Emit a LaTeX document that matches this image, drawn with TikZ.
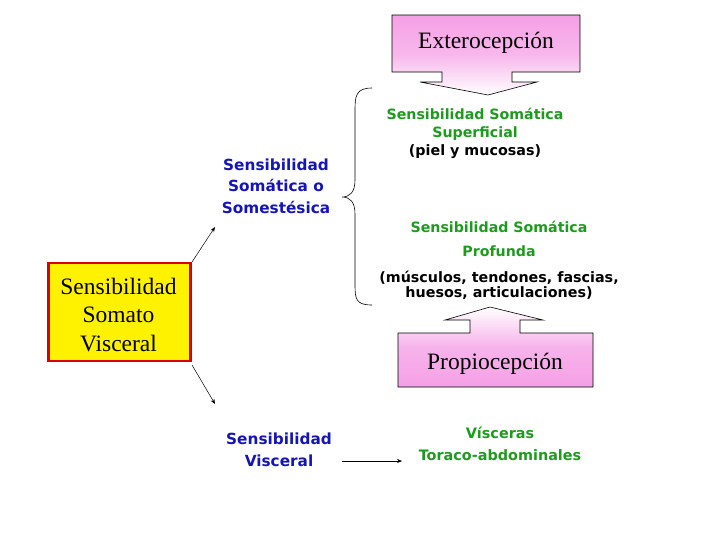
\documentclass[tikz,border=0pt]{standalone}
\usepackage{fontspec}
\setmainfont{Liberation Serif}
\newfontfamily\vfont{DejaVu Sans}
\usetikzlibrary{arrows.meta}
\definecolor{vblue}{RGB}{20,20,185}
\definecolor{vgreen}{RGB}{30,155,30}
\definecolor{vpink}{RGB}{245,160,230}
\tikzset{
  serif/.style={font=\fontsize{23.5}{29}\selectfont, align=center, inner sep=0pt},
  bluelab/.style={font=\vfont\bfseries\fontsize{15.3}{21.5}\selectfont, text=vblue, align=center, inner sep=0pt},
  greenlab/.style={font=\vfont\bfseries\fontsize{14.2}{18}\selectfont, text=vgreen, align=center, inner sep=0pt},
  blacklab/.style={font=\vfont\bfseries\fontsize{14.3}{15}\selectfont, text=black, align=center, inner sep=0pt},
  conn/.style={-{Stealth[length=5pt,width=4pt]}, line width=0.5pt},
  callout/.style={draw=black, line width=0.6pt}
}
\begin{document}
\begin{tikzpicture}[x=1pt,y=-1pt]
\useasboundingbox[fill=white] (0,0) rectangle (728,546);
% Exterocepcion callout
\path[callout, top color=vpink, bottom color=white, middle color=vpink!75]
  (392,15) -- (580,15) -- (580,72) -- (512,72) -- (512,82) -- (537,82) -- (488,95)
  -- (420,82) -- (442,82) -- (442,72) -- (392,72) -- cycle;
\node[serif] (ext) at (486,43) {Exterocepción};
% Propiocepcion callout
\path[callout, top color=white, bottom color=vpink, middle color=vpink!80]
  (398,333) -- (470,333) -- (470,320) -- (445,320) -- (490,307) -- (543,320)
  -- (520,320) -- (520,333) -- (593,333) -- (593,387) -- (398,387) -- cycle;
\node[serif] (pro) at (495,364) {Propiocepción};
% main box
\node[draw=red!85!black, line width=2.6pt, fill=yellow, minimum width=142pt, minimum height=98pt, inner sep=0pt] (main) at (119.5,312) {};
\node[serif, font=\fontsize{23.5}{28.5}\selectfont] (maintext) at (118.5,315) {Sensibilidad\\Somato\\Visceral};
% blue labels
\node[bluelab] (soma) at (276,186) {Sensibilidad\\Somática o\\Somestésica};
\node[bluelab] (visc) at (279,450) {Sensibilidad\\Visceral};
\coordinate (a1s) at (192,262);
\coordinate (a1e) at (215,227);
\coordinate (a2s) at (192,365);
\coordinate (a2e) at (215,404);
\draw[conn] (a1s) -- (a1e);
\draw[conn] (a2s) -- (a2e);
% brace
\coordinate (bt) at (372,88);
\coordinate (bm) at (342,197);
\coordinate (bb) at (372,305);
\draw[line width=0.6pt] (bt) .. controls (356,88) and (355,96) .. (355,110)
  -- (355,180) .. controls (355,192) and (350,197) .. (bm)
  .. controls (350,197) and (355,202) .. (355,214)
  -- (355,285) .. controls (355,299) and (356,305) .. (bb);
% green labels
\node[greenlab] (sup) at (475,124.5) {Sensibilidad Somática\\Superficial};
\node[blacklab] (piel) at (475,152) {(piel y mucosas)};
\node[greenlab] (prof1) at (499,227) {Sensibilidad Somática};
\node[greenlab] (prof2) at (499,251) {Profunda};
\node[blacklab] (musc) at (499,285.5) {(músculos, tendones, fascias,\\huesos, articulaciones)};
\node[greenlab, font=\vfont\bfseries\fontsize{14.4}{22}\selectfont] (vis) at (500,444) {Vísceras\\Toraco-abdominales};
\coordinate (a3s) at (342,461);
\coordinate (a3e) at (402,461);
\draw[conn] (a3s) -- (a3e);
\end{tikzpicture}
\end{document}
